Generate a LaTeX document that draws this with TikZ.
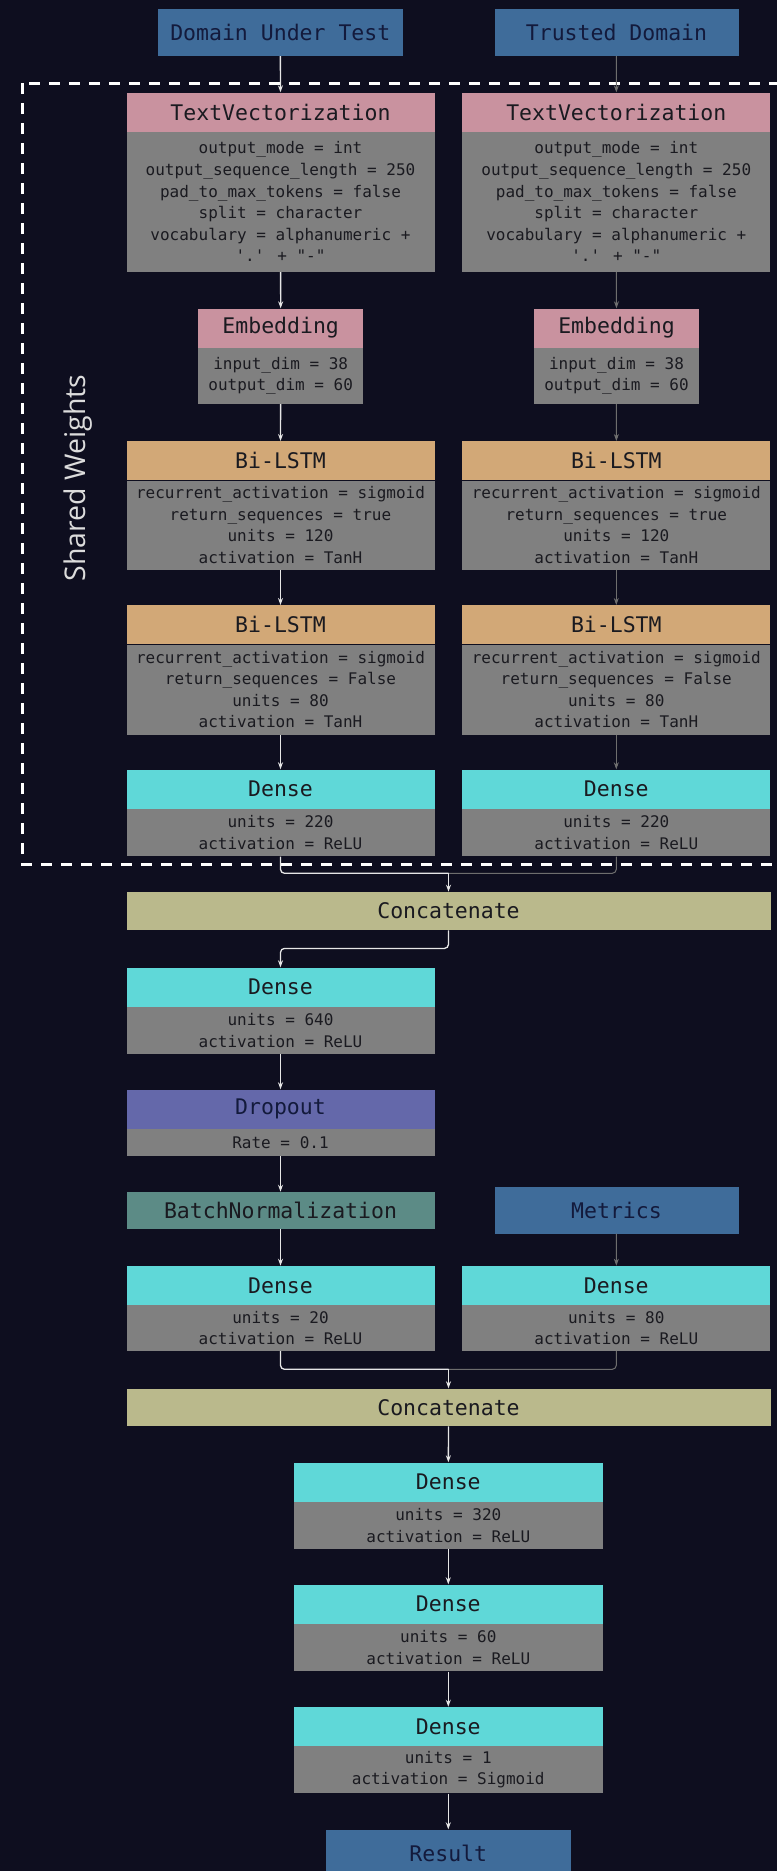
\documentclass[tikz,border=0pt]{standalone}
\usepackage{fontspec}
\newfontfamily\monofont{DejaVu Sans Mono}
\newfontfamily\labelfont{Open Sans}
\usetikzlibrary{arrows.meta,calc}

\definecolor{bg}{HTML}{0E0E1F}
\definecolor{inblue}{HTML}{3F6C9A}
\definecolor{pinkhead}{HTML}{C9929F}
\definecolor{tanhead}{HTML}{D2A877}
\definecolor{cyanhead}{HTML}{5FD8D8}
\definecolor{khaki}{HTML}{BAB98C}
\definecolor{dropcol}{HTML}{6468AA}
\definecolor{bncol}{HTML}{5C8B86}
\definecolor{bodygray}{HTML}{808080}
\definecolor{txtdark}{HTML}{1A1A20}
\definecolor{txtnavy}{HTML}{131A3C}
\definecolor{wirewhite}{HTML}{E6E6E6}
\definecolor{wiregray}{HTML}{6E6E6E}
\definecolor{labelgray}{HTML}{DCDCDC}

\tikzset{
  head/.style={rectangle, inner sep=0pt, anchor=north, minimum height=39pt,
    text=txtdark, font=\monofont\fontsize{21.5}{24}\selectfont},
  body/.style={rectangle, inner sep=0pt, anchor=north, fill=bodygray, align=center,
    text=txtdark, font=\monofont\fontsize{16}{21.6}\selectfont},
  inbox/.style={rectangle, inner sep=0pt, anchor=north, fill=inblue, minimum width=245pt,
    minimum height=47.4pt, text=txtnavy, font=\monofont\fontsize{21.5}{24}\selectfont},
  wire/.style={draw=wirewhite, line width=1.3pt, -{Stealth[length=7pt,width=5pt]}},
  gwire/.style={draw=wiregray, line width=1pt, -{Stealth[length=7pt,width=5pt,fill=wirewhite]}},
  joinw/.style={draw=wirewhite, line width=1.3pt, rounded corners=4pt},
  joing/.style={draw=wiregray, line width=1pt, rounded corners=4pt},
  sharedbox/.style={draw=white, line width=2.5pt, dash pattern=on 11pt off 9pt},
}

% one layer: header bar plus grey parameter panel below it
% #1 name, #2 x, #3 top y, #4 width, #5 header colour, #6 title, #7 panel height, #8 panel text
\newcommand\nnlayer[8]{%
  \node[head, fill=#5, minimum width=#4] (#1) at (#2,#3) {#6};
  \node[body, minimum width=#4, minimum height=#7] (#1b) at (#1.south) {#8};
}

\begin{document}
\begin{tikzpicture}[x=1pt,y=-1pt]
\useasboundingbox (0,0) rectangle (777,1871);
\clip (0,0) rectangle (777,1871);
\fill[bg] (0,0) rectangle (777,1871);

% shared-weights region
\draw[sharedbox] (22.3,83.3) rectangle (800,864.3);
\node[rotate=90, text=labelgray, font=\labelfont\fontsize{28.5}{30}\selectfont] (sw) at (78,478) {Shared Weights};

% inputs
\node[inbox] (dut) at (280.3,8.3) {Domain Under Test};
\node[inbox, minimum width=244pt] (td) at (616.5,8.3) {Trusted Domain};

% left branch
\nnlayer{tvL}{280.5}{92.3}{308pt}{pinkhead}{TextVectorization}{140pt}{output\_mode = int\\output\_sequence\_length = 250\\pad\_to\_max\_tokens = false\\split = character\\vocabulary = alphanumeric +\\'.' + "-"}
\nnlayer{embL}{280.7}{308.3}{165pt}{pinkhead}{Embedding}{56pt}{input\_dim = 38\\output\_dim = 60}
\nnlayer{lstmAL}{280.5}{441}{308pt}{tanhead}{Bi-LSTM}{89pt}{recurrent\_activation = sigmoid\\return\_sequences = true\\units = 120\\activation = TanH}
\nnlayer{lstmBL}{280.5}{605}{308pt}{tanhead}{Bi-LSTM}{90pt}{recurrent\_activation = sigmoid\\return\_sequences = False\\units = 80\\activation = TanH}
\nnlayer{denseL}{280.5}{769.3}{308pt}{cyanhead}{Dense}{47.5pt}{units = 220\\activation = ReLU}

% right branch
\nnlayer{tvR}{616.3}{92.3}{308pt}{pinkhead}{TextVectorization}{140pt}{output\_mode = int\\output\_sequence\_length = 250\\pad\_to\_max\_tokens = false\\split = character\\vocabulary = alphanumeric +\\'.' + "-"}
\nnlayer{embR}{616.5}{308.3}{165pt}{pinkhead}{Embedding}{56pt}{input\_dim = 38\\output\_dim = 60}
\nnlayer{lstmAR}{616.3}{441}{308pt}{tanhead}{Bi-LSTM}{89pt}{recurrent\_activation = sigmoid\\return\_sequences = true\\units = 120\\activation = TanH}
\nnlayer{lstmBR}{616.3}{605}{308pt}{tanhead}{Bi-LSTM}{90pt}{recurrent\_activation = sigmoid\\return\_sequences = False\\units = 80\\activation = TanH}
\nnlayer{denseR}{616.3}{769.3}{308pt}{cyanhead}{Dense}{47.5pt}{units = 220\\activation = ReLU}

% merged trunk
\node[head, fill=khaki, minimum width=644pt, minimum height=38.3pt] (cat1) at (448.5,891.7) {Concatenate};
\nnlayer{d640}{280.5}{967.3}{308pt}{cyanhead}{Dense}{47.3pt}{units = 640\\activation = ReLU}
\node[head, fill=dropcol, minimum width=308pt, text=txtnavy] (drop) at (280.5,1089.3) {Dropout};
\node[body, minimum width=308pt, minimum height=27.3pt] (dropb) at (drop.south) {Rate = 0.1};
\node[head, fill=bncol, minimum width=308pt, minimum height=36.6pt] (bn) at (280.5,1191.7) {BatchNormalization};
\node[inbox, minimum width=244pt, minimum height=46.6pt] (met) at (616.5,1186.7) {Metrics};
\nnlayer{d20}{280.5}{1265.7}{308pt}{cyanhead}{Dense}{45.7pt}{units = 20\\activation = ReLU}
\nnlayer{d80}{616.3}{1265.7}{308pt}{cyanhead}{Dense}{45.7pt}{units = 80\\activation = ReLU}
\node[head, fill=khaki, minimum width=644pt, minimum height=37.7pt] (cat2) at (448.5,1388.3) {Concatenate};
\nnlayer{d320}{448.3}{1462.3}{308.7pt}{cyanhead}{Dense}{47.3pt}{units = 320\\activation = ReLU}
\nnlayer{d60}{448.3}{1584.3}{308.7pt}{cyanhead}{Dense}{47.4pt}{units = 60\\activation = ReLU}
\nnlayer{d1}{448.3}{1706.7}{308.7pt}{cyanhead}{Dense}{47pt}{units = 1\\activation = Sigmoid}
\node[inbox] (res) at (448.3,1829.3) {Result};

% left branch connectors
\draw[wire] (dut) -- (tvL);
\draw[wire] (tvLb) -- (embL);
\draw[wire] (embLb) -- (lstmAL);
\draw[wire] (lstmALb) -- (lstmBL);
\draw[wire] (lstmBLb) -- (denseL);

% right branch connectors
\draw[gwire] (td) -- (tvR);
\draw[gwire] (tvRb) -- (embR);
\draw[gwire] (embRb) -- (lstmAR);
\draw[gwire] (lstmARb) -- (lstmBR);
\draw[gwire] (lstmBRb) -- (denseR);

% first join
\coordinate (m1) at (448.5,873.3);
\draw[joinw] (denseLb.south) |- (m1);
\draw[joing] (denseRb.south) |- (m1);
\draw[wire] (m1) -- (cat1);

% trunk connectors
\draw[wire, rounded corners=4pt] (cat1.south) -- ++(0,18) -| (d640.north);
\draw[wire] (d640b) -- (drop);
\draw[wire] (dropb) -- (bn);
\draw[wire] (bn) -- (d20);
\draw[gwire] (met) -- (d80);

% second join
\coordinate (m2) at (448.5,1369.3);
\draw[joinw] (d20b.south) |- (m2);
\draw[joing] (d80b.south) |- (m2);
\draw[wire] (m2) -- (cat2);

\draw[wire] (cat2) -- (d320);
\draw[wire] (d320b) -- (d60);
\draw[wire] (d60b) -- (d1);
\draw[wire] (d1b) -- (res);
\end{tikzpicture}
\end{document}
